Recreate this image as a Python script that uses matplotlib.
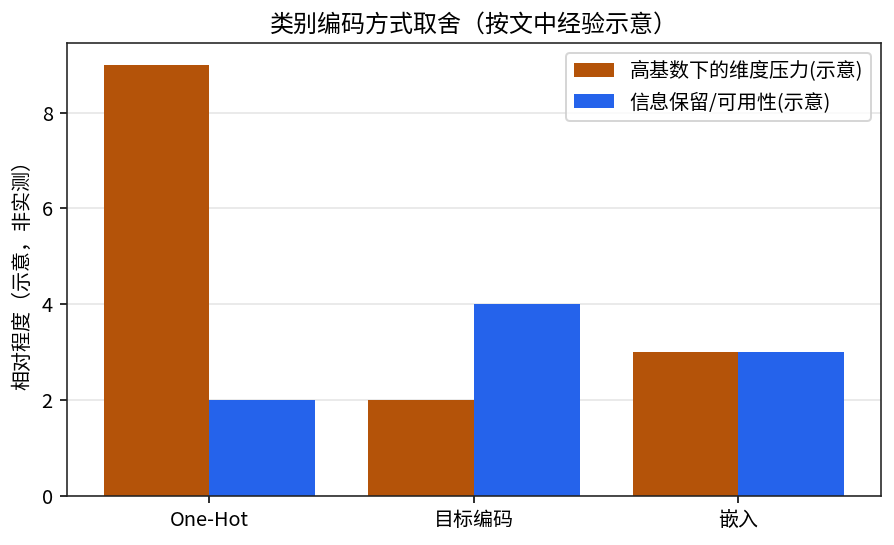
import matplotlib
matplotlib.use("Agg")
import matplotlib.pyplot as plt
import numpy as np

plt.rcParams['font.family'] = ['Noto Sans CJK SC', 'DejaVu Sans']

categories = ["One-Hot", "目标编码", "嵌入"]
pressure = [9, 2, 3]
retention = [2, 4, 3]
series_names = ["高基数下的维度压力(示意)", "信息保留/可用性(示意)"]

DPI = 144
fig, ax = plt.subplots(figsize=(894 / DPI, 545 / DPI), dpi=DPI)
x = np.arange(len(categories))
w = 0.4
ax.bar(x - w/2, pressure, width=w, color="#b45309", label=series_names[0], zorder=2)
ax.bar(x + w/2, retention, width=w, color="#2563eb", label=series_names[1], zorder=2)
ax.set_xticks(x)
ax.set_xticklabels(categories, fontsize=10)
ax.tick_params(axis='y', labelsize=10)
ax.set_ylabel("相对程度（示意，非实测）", fontsize=10)
ax.set_title("类别编码方式取舍（按文中经验示意）", fontsize=12)
ax.yaxis.grid(True, color="#e5e5e5", linewidth=0.8, zorder=0)
ax.set_axisbelow(True)
ax.legend(loc="upper right", fontsize=10)
ax.set_ylim(0, 9.45)
for s in ax.spines.values():
    s.set_color("#222222")
fig.subplots_adjust(left=0.0746, right=0.9855, top=0.9205, bottom=0.0905)
fig.savefig("out.png", dpi=DPI)
